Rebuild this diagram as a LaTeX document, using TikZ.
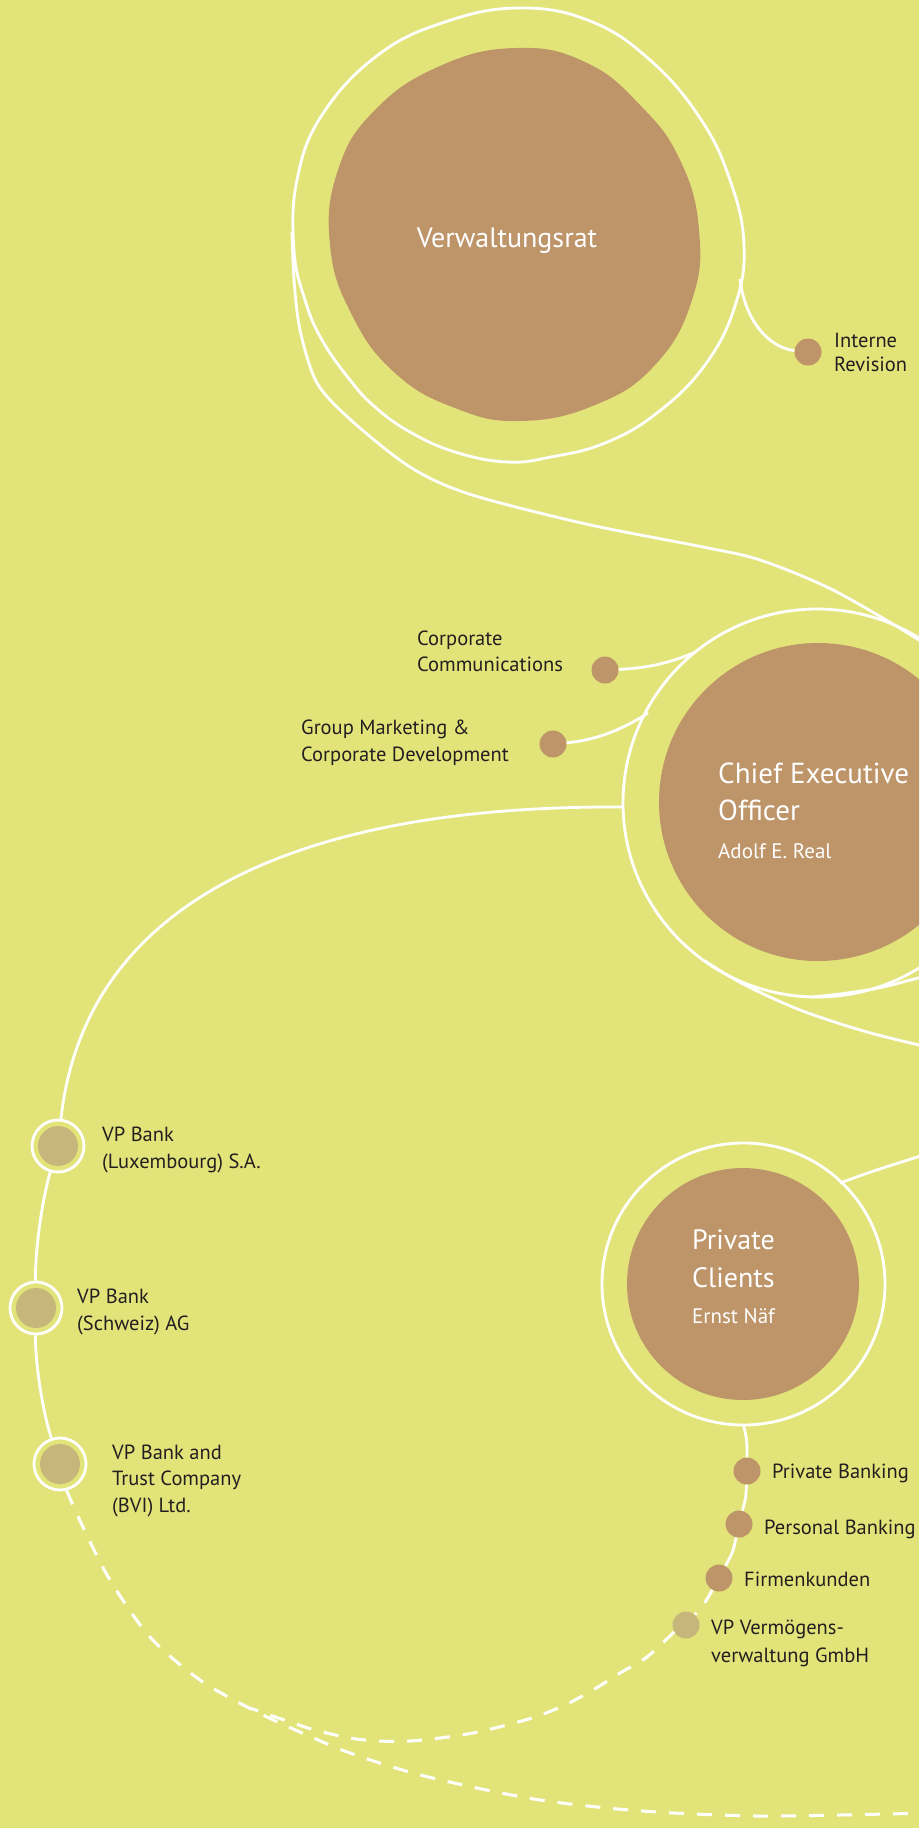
\documentclass[tikz,border=0pt]{standalone}
\usepackage{fontspec}
\setmainfont{PT Sans}
\definecolor{bgc}{RGB}{226,228,121}
\definecolor{blobc}{RGB}{190,148,105}
\definecolor{lighttan}{RGB}{199,182,124}
\definecolor{textc}{RGB}{35,31,32}
\begin{document}
\begin{tikzpicture}[x=1pt,y=-1pt,
  wline/.style={draw=white,line width=2.8pt},
  dline/.style={draw=white,line width=3pt,dash pattern=on 15pt off 13pt},
  cdot/.style={circle,fill=blobc,minimum size=27pt,inner sep=0pt},
  lightdot/.style={cdot,fill=lighttan},
  bankring/.style={circle,draw=white,line width=2.8pt,fill=bgc,minimum size=52pt,inner sep=0pt,
    path picture={\fill[lighttan] (path picture bounding box.center) circle (20pt);}},
  lbltxt/.style={anchor=base west,inner sep=0pt,text=textc,align=left,font=\fontsize{20.5}{27}\selectfont},
  ttl/.style={anchor=base west,inner sep=0pt,text=white,align=left,font=\fontsize{28}{37.5}\selectfont},
  subtxt/.style={anchor=base west,inner sep=0pt,text=white,font=\fontsize{21}{24}\selectfont},
]
\useasboundingbox (0,0) rectangle (919,1828);
\fill[bgc] (0,0) rectangle (919,1828);
\clip (0,0) rectangle (919,1828);

% named points on the hand-drawn rings
\coordinate (vrL) at (292,232);
\coordinate (vrR) at (740,279);
\coordinate (ceoW) at (623,807);
\coordinate (ceoCC) at (693,653);
\coordinate (ceoGM) at (648,713);
\coordinate (ceoA) at (705,961);
\coordinate (ceoB) at (812,997);
\coordinate (pcS) at (743.5,1425);
\coordinate (pcNE) at (840,1183);
\coordinate (merge) at (250,1708);

% Verwaltungsrat
\draw[wline] plot[smooth cycle,tension=0.7] coordinates {(519,8) (590,21) (650,60) (700,118) (730,180) (744,245) (735,306) (705,365) (657,413) (605,443) (551,457) (507,462) (455,452) (410,432) (375,407) (350,380) (322,340) (305,300) (294,250) (297,180) (322,115) (378,55) (445,22)};
\fill[blobc] plot[smooth cycle,tension=0.75] coordinates {(516,48) (585,62) (640,105) (680,160) (699,230) (692,300) (655,365) (595,405) (520,421) (455,408) (395,373) (352,315) (330,245) (338,170) (375,110) (440,66)};
\draw[wline] plot[smooth] coordinates {(vrL) (294,280) (300,330) (317,383) (352,421) (410,467) (469,494) (586,524) (703,547) (760,560) (833,590) (919,640) (960,670)};

% CEO
\draw[wline] (817,803) circle [radius=194pt];
\fill[blobc] (818,802) circle [radius=159pt];
\draw[wline] plot[smooth] coordinates {(ceoA) (743,984) (800,1010) (867,1032) (940,1050)};
\draw[wline] plot[smooth] coordinates {(ceoB) (840,994) (883,987) (940,972)};

% Private Clients
\draw[wline] (743.5,1284) ellipse [x radius=141.5pt, y radius=141pt];
\fill[blobc] (743,1284) circle [radius=116pt];
\draw[wline] (pcNE) .. controls (870,1172) .. (930,1153);

% nodes
\node[cdot] (irdot) at (808,352) {};
\node[cdot] (ccdot) at (605,670) {};
\node[cdot] (gmdot) at (553,744) {};
\node[bankring] (lux) at (58,1146) {};
\node[bankring] (schw) at (36,1308) {};
\node[bankring] (bvi) at (60,1464) {};
\node[cdot] (pb) at (747,1471) {};
\node[cdot] (peb) at (739,1524) {};
\node[cdot] (fk) at (719,1578) {};
\node[lightdot] (vpv) at (686,1625) {};

% connectors
\draw[wline] (vrR) .. controls (745,322) and (770,348) .. (irdot);
\draw[wline] (ccdot) .. controls (650,668) and (672,662) .. (ceoCC);
\draw[wline] (gmdot) .. controls (598,740) and (625,728) .. (ceoGM);
\draw[wline] (ceoW) .. controls (300,805) and (85,900) .. (lux);
\draw[wline] (lux) .. controls (42,1200) and (35,1250) .. (schw);
\draw[wline] (schw) .. controls (35,1360) and (42,1410) .. (bvi);
\draw[dline] plot[smooth] coordinates {(bvi.-76) (83,1527) (110,1580) (150,1637) (200,1680) (253,1710) (300,1732) (350,1753) (413,1773) (477,1788) (540,1800) (607,1808) (673,1813) (757,1816) (840,1815) (930,1813)};
\draw[wline] (pcS) .. controls (747,1440) .. (pb);
\draw[wline] (pb) .. controls (746,1497) .. (peb);
\draw[wline] (peb) .. controls (733,1552) .. (fk);
\draw[dline] (fk) .. controls (705,1603) .. (vpv);
\draw[dline] plot[smooth] coordinates {(vpv.-150) (647,1657) (620,1673) (593,1690) (565,1705) (535,1717) (503,1726) (473,1733) (440,1738) (410,1741) (378,1741) (350,1738) (315,1730) (290,1722) (merge)};

% texts (multi-line nodes: base = baseline of last line)
\node[ttl,anchor=base] (vrtxt) at (507,247) {Verwaltungsrat};
\node[lbltxt,font=\fontsize{20.5}{24}\selectfont] (irtxt) at (834,371) {Interne\\Revision};
\node[lbltxt,font=\fontsize{20.5}{26}\selectfont] (cctxt) at (417,671) {Corporate\\Communications};
\node[lbltxt] (gmtxt) at (301,761) {Group Marketing \&\\Corporate Development};
\node[ttl,font=\fontsize{29}{37.5}\selectfont] (ceotxt) at (718,820.5) {Chief Executive\\Officer};
\node[subtxt] (ceoname) at (718,858) {Adolf E. Real};
\node[lbltxt] (luxtxt) at (102,1168) {VP Bank\\(Luxembourg) S.A.};
\node[lbltxt] (schwtxt) at (77,1330) {VP Bank\\(Schweiz) AG};
\node[lbltxt,font=\fontsize{20.5}{26.5}\selectfont] (bvitxt) at (112,1512) {VP Bank and\\Trust Company\\(BVI) Ltd.};
\node[ttl] (pctxt) at (692,1287) {Private\\Clients};
\node[subtxt] (pcname) at (692,1323) {Ernst Näf};
\node[lbltxt] (pbtxt) at (772,1478) {Private Banking};
\node[lbltxt] (pebtxt) at (764,1534) {Personal Banking};
\node[lbltxt] (fktxt) at (744,1586) {Firmenkunden};
\node[lbltxt,font=\fontsize{20.5}{28}\selectfont] (vpvtxt) at (711,1662) {VP Vermögens-\\verwaltung GmbH};
\end{tikzpicture}
\end{document}
